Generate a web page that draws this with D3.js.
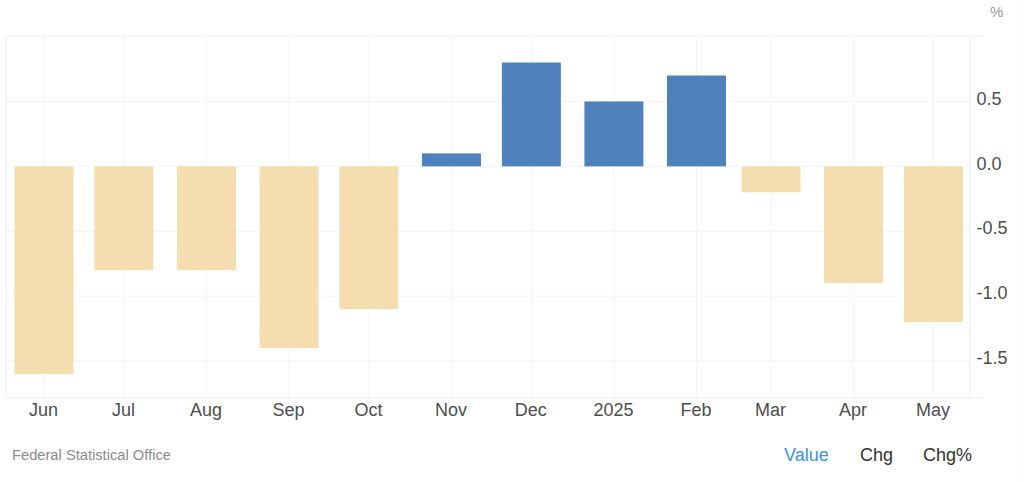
<!DOCTYPE html>
<html>
<head>
<meta charset="utf-8">
<script src="https://cdn.jsdelivr.net/npm/d3@7"></script>
<style>
    html, body { margin: 0; padding: 0; background: #fff; }
    svg { display: block; }
    text { font-family: "Liberation Sans", Arial, sans-serif; }
</style>
</head>
<body>
<div id="chart"></div>
<script>
const months = ["2024-06-01", "2024-07-01", "2024-08-01", "2024-09-01", "2024-10-01", "2024-11-01",
    "2024-12-01", "2025-01-01", "2025-02-01", "2025-03-01", "2025-04-01", "2025-05-01"];
const monthLabels = ["Jun", "Jul", "Aug", "Sep", "Oct", "Nov", "Dec", "2025", "Feb", "Mar", "Apr", "May"];
const values = [-1.6, -0.8, -0.8, -1.4, -1.1, 0.1, 0.8, 0.5, 0.7, -0.2, -0.9, -1.2];
const yTicks = [0.5, 0, -0.5, -1, -1.5];
const toggles = ["Value", "Chg", "Chg%"];
const sourceLabel = "Federal Statistical Office";

const width = 1024;
const height = 482;
const plot = { left: 6, right: 970, top: 36, bottom: 398 };
const barWidth = 59;

const dates = months.map(d => new Date(d + "T00:00:00Z"));

// months are not evenly spaced, so the x axis is a real time scale
const x = d3.scaleUtc()
    .domain([dates[0], dates[dates.length - 1]])
    .range([44, 933.5]);

const y = d3.scaleLinear()
    .domain([1, -1.79])
    .range([plot.top + 0.6, plot.bottom + 0.6]);

const svg = d3.select("#chart").append("svg")
    .attr("width", width)
    .attr("height", height);

// grid
const gridColor = "#f3f3f3";
svg.append("g").selectAll("line")
    .data(yTicks)
    .enter()
    .append("line")
    .attr("x1", plot.left)
    .attr("x2", plot.right)
    .attr("y1", d => y(d))
    .attr("y2", d => y(d))
    .attr("stroke", gridColor);

svg.append("g").selectAll("line")
    .data(dates)
    .enter()
    .append("line")
    .attr("x1", d => x(d))
    .attr("x2", d => x(d))
    .attr("y1", plot.top)
    .attr("y2", plot.bottom)
    .attr("stroke", gridColor);

// frame
const frame = svg.append("g").attr("stroke", "#ededed").attr("fill", "none");
frame.append("line").attr("x1", plot.left).attr("x2", 984).attr("y1", plot.top).attr("y2", plot.top);
frame.append("line").attr("x1", plot.left).attr("x2", 984).attr("y1", plot.bottom).attr("y2", plot.bottom);
frame.append("line").attr("x1", plot.left).attr("x2", plot.left).attr("y1", plot.top).attr("y2", plot.bottom);
frame.append("line").attr("x1", plot.right).attr("x2", plot.right).attr("y1", plot.top).attr("y2", plot.bottom);
svg.append("line")
    .attr("x1", 1021).attr("x2", 1021).attr("y1", 0).attr("y2", height)
    .attr("stroke", "#f6f6f6");

// bars
svg.append("g").selectAll("rect")
    .data(values)
    .enter()
    .append("rect")
    .attr("x", (d, i) => x(dates[i]) - barWidth / 2)
    .attr("y", d => y(Math.max(d, 0)))
    .attr("width", barWidth)
    .attr("height", d => Math.abs(y(d) - y(0)))
    .attr("fill", d => d >= 0 ? "#4f81bd" : "#f4deb0");

// axes
const xAxis = d3.axisBottom(x)
    .tickValues(dates)
    .tickSize(0)
    .tickPadding(0)
    .tickFormat((d, i) => monthLabels[i]);

const gx = svg.append("g")
    .attr("transform", `translate(-1,${plot.bottom + 5.5})`)
    .call(xAxis);
gx.select(".domain").remove();
gx.selectAll("text")
    .attr("font-size", 18)
    .attr("fill", "#4d4d4d");

// hyphen rather than d3's default unicode minus, as in the source chart
const yAxis = d3.axisRight(y)
    .tickValues(yTicks)
    .tickSize(0)
    .tickPadding(0)
    .tickFormat(d => d.toFixed(1));

const gy = svg.append("g")
    .attr("transform", `translate(${plot.right + 6.5},-3)`)
    .call(yAxis);
gy.select(".domain").remove();
gy.selectAll("text")
    .attr("font-size", 18)
    .attr("fill", "#4d4d4d");

// unit
svg.append("text")
    .attr("x", 990)
    .attr("y", 17)
    .attr("font-size", 15)
    .attr("fill", "#999")
    .text("%");

// source
svg.append("text")
    .attr("x", 12)
    .attr("y", 459.5)
    .attr("font-size", 14.7)
    .attr("fill", "#8c8c8c")
    .text(sourceLabel);

// value / chg toggles
const toggleX = [784, 860, 923];
svg.append("g").selectAll("text")
    .data(toggles)
    .enter()
    .append("text")
    .attr("x", (d, i) => toggleX[i])
    .attr("y", 460.5)
    .attr("font-size", 18)
    .attr("fill", (d, i) => i === 0 ? "#3d94d9" : "#333")
    .text(d => d);
</script>
</body>
</html>
